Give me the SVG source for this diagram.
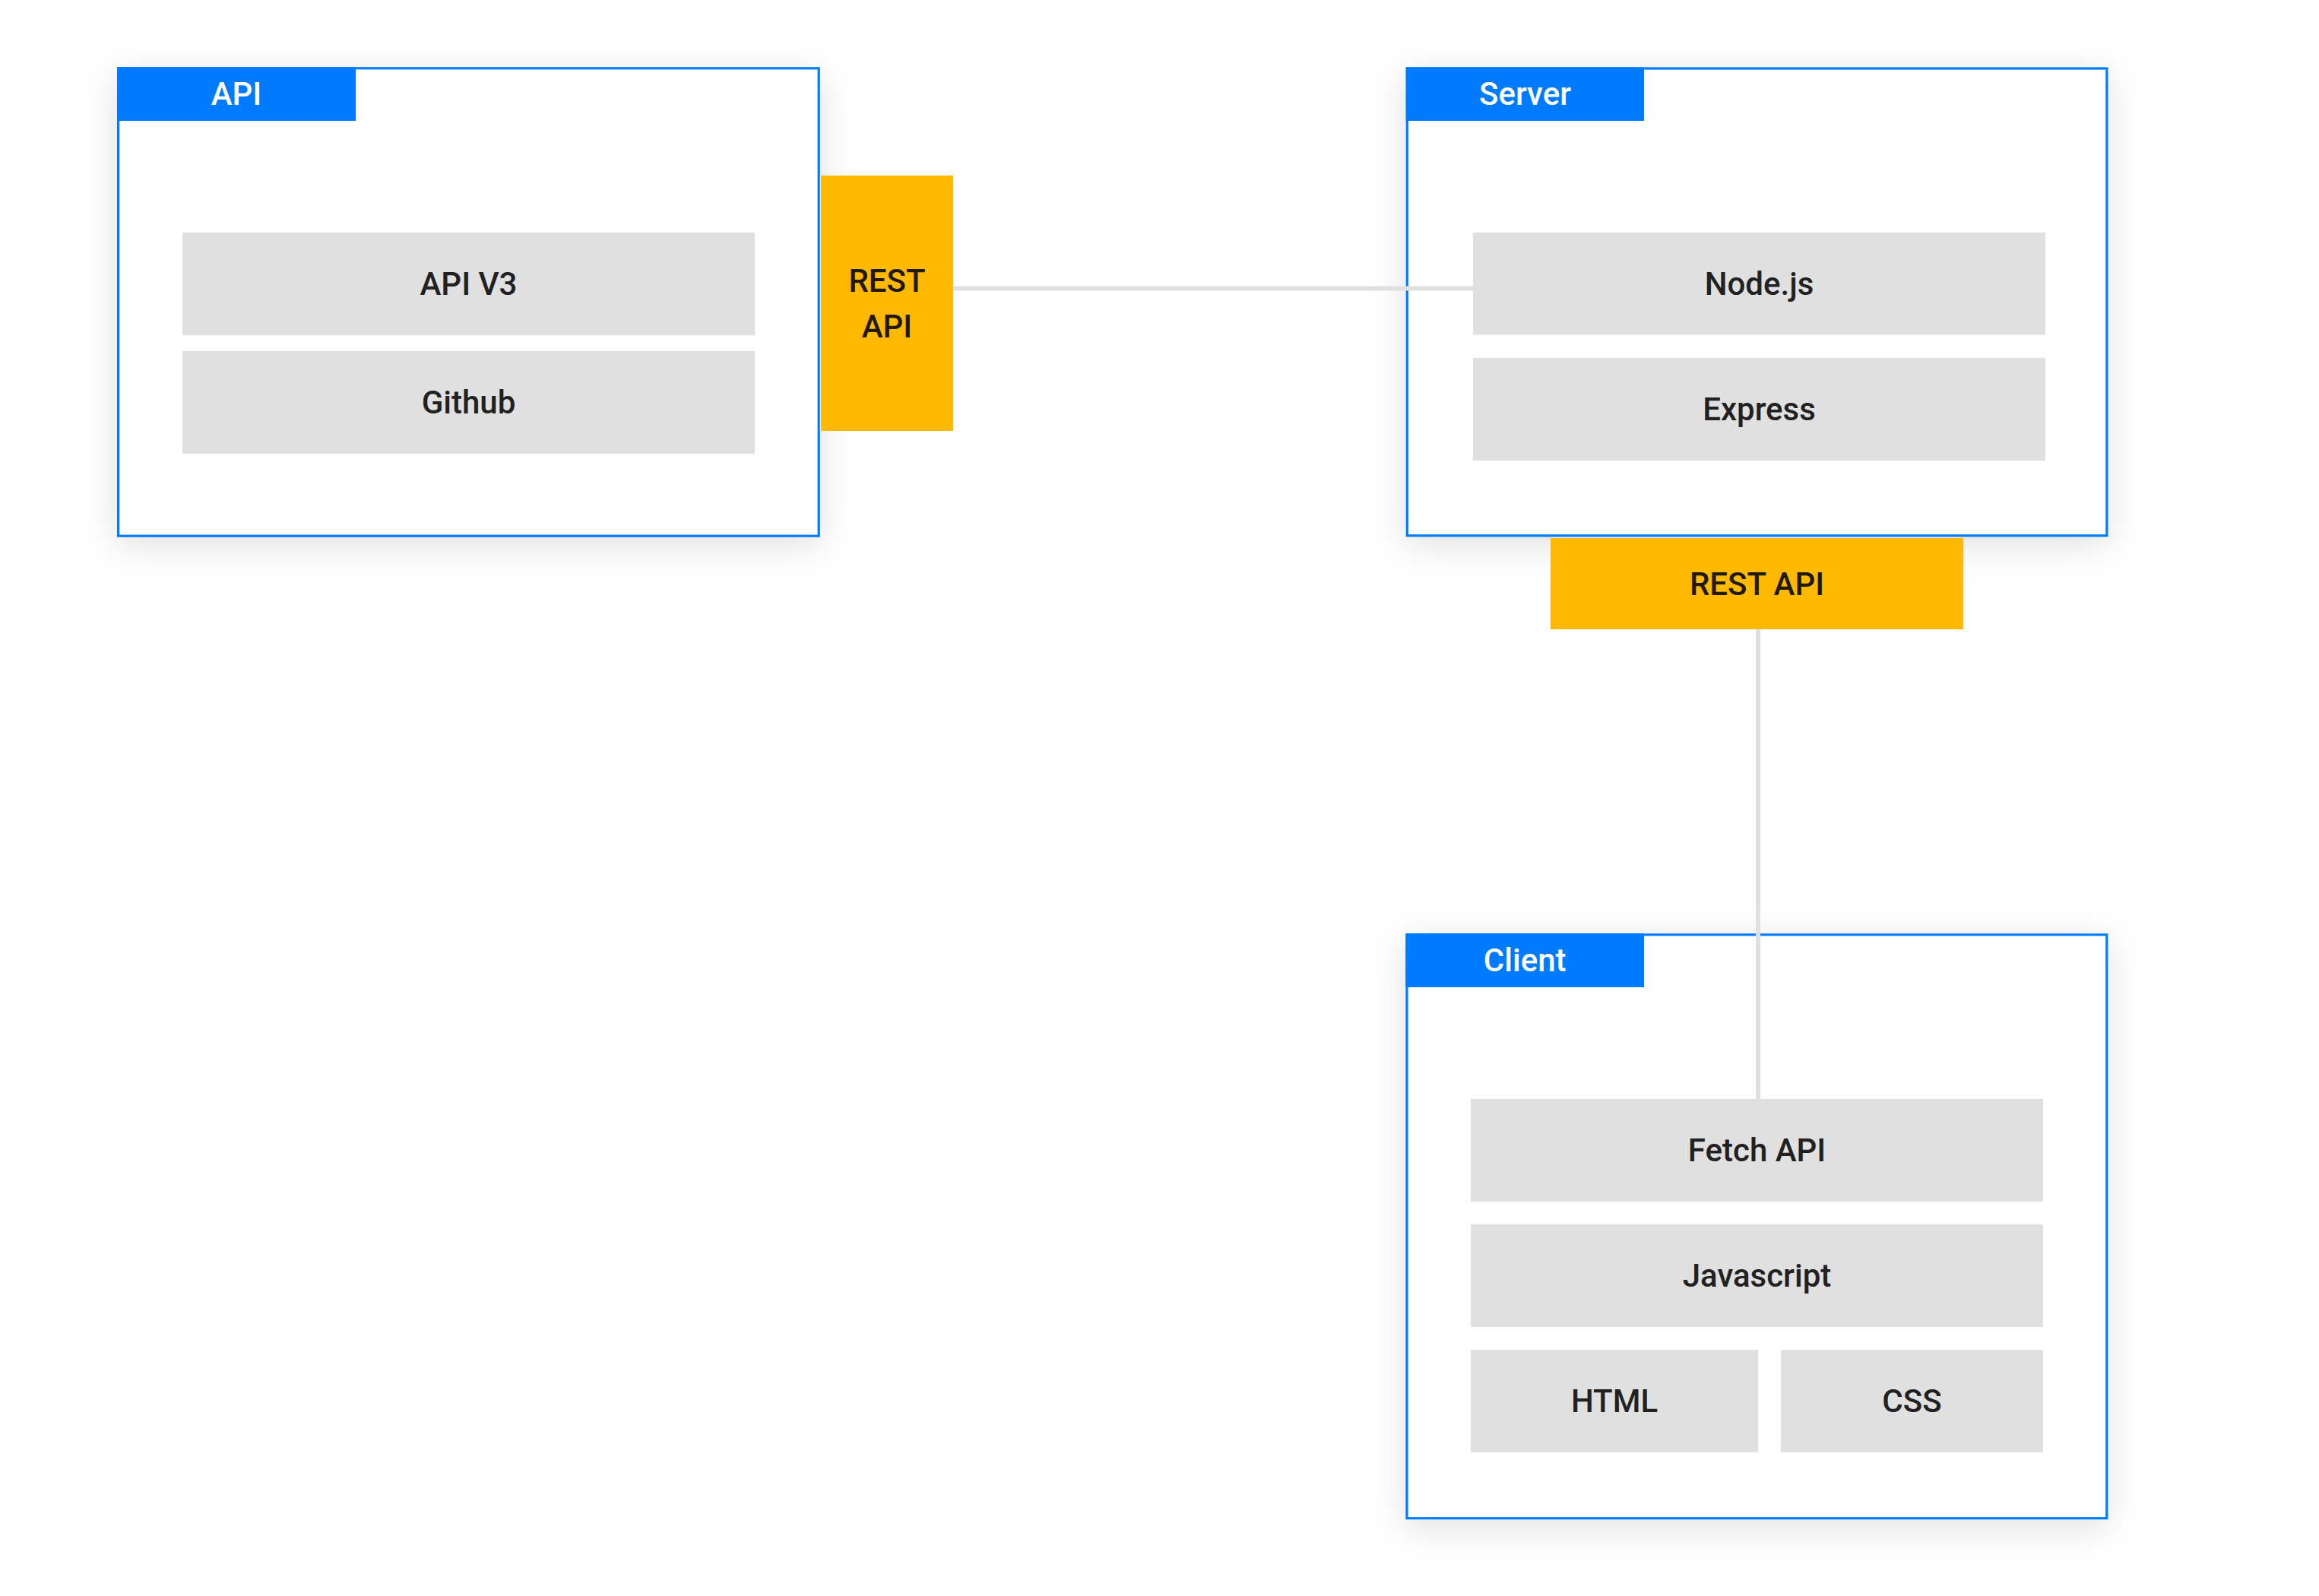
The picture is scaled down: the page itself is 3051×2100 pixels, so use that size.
<svg xmlns="http://www.w3.org/2000/svg" width="3051" height="2100" viewBox="0 0 3051 2100">
  <defs>
    <filter id="shadow" x="-15%" y="-15%" width="130%" height="135%">
      <feDropShadow dx="0" dy="10" stdDeviation="24" flood-color="#000000" flood-opacity="0.12"/>
    </filter>
    <style>
      .frame { fill: #ffffff; stroke: #007bff; stroke-width: 3.2; filter: url(#shadow); }
      .tab { fill: #007bff; }
      .tabtext { fill: #ffffff; font-family: Roboto, "Liberation Sans", sans-serif; font-size: 42px; font-weight: 500; text-anchor: middle; }
      .item { fill: #e0e0e0; }
      .itemtext { fill: #212121; font-family: Roboto, "Liberation Sans", sans-serif; font-size: 42px; font-weight: 500; text-anchor: middle; }
      .iface { fill: #ffb900; }
      .ifacetext { fill: #221a00; font-family: Roboto, "Liberation Sans", sans-serif; font-size: 42px; font-weight: 500; text-anchor: middle; }
      .conn { stroke: #e0e0e0; stroke-width: 6; fill: none; }
    </style>
  </defs>
  <rect x="0" y="0" width="3051" height="2100" fill="#ffffff"/>

  <g id="api-container">
    <rect class="frame" x="155.6" y="89.8" width="921.6" height="615.4"/>
    <rect class="tab" x="154" y="88.2" width="314" height="70.8"/>
    <text class="tabtext" x="311" y="138">API</text>
  </g>
  <g id="server-container">
    <rect class="frame" x="1851.3" y="90" width="920.6" height="614.8"/>
    <rect class="tab" x="1849.7" y="88.4" width="313.3" height="70.6"/>
    <text class="tabtext" x="2006.5" y="138">Server</text>
  </g>
  <g id="client-container">
    <rect class="frame" x="1851" y="1229.9" width="920.8" height="767.8"/>
    <rect class="tab" x="1849.4" y="1228.3" width="313.6" height="70.7"/>
    <text class="tabtext" x="2006.2" y="1278">Client</text>
  </g>

  <g id="connectors">
    <line class="conn" x1="1254" y1="379.5" x2="1938" y2="379.5"/>
    <line class="conn" x1="2313" y1="828" x2="2313" y2="1446"/>
  </g>

  <g id="rest-api-left">
    <rect class="iface" x="1080" y="231" width="174" height="336"/>
    <text class="ifacetext" x="1167" y="384">REST</text>
    <text class="ifacetext" x="1167" y="444">API</text>
  </g>
  <g id="rest-api-bottom">
    <rect class="iface" x="2040" y="708" width="543" height="120"/>
    <text class="ifacetext" x="2311.5" y="783">REST API</text>
  </g>

  <g id="api-v3">
    <rect class="item" x="240" y="306" width="753" height="135"/>
    <text class="itemtext" x="616.5" y="388">API V3</text>
  </g>
  <g id="github">
    <rect class="item" x="240" y="462" width="753" height="135"/>
    <text class="itemtext" x="616.5" y="544">Github</text>
  </g>

  <g id="nodejs">
    <rect class="item" x="1938" y="306" width="753" height="134.5"/>
    <text class="itemtext" x="2314.5" y="387.5">Node.js</text>
  </g>
  <g id="express">
    <rect class="item" x="1938" y="471" width="753" height="135"/>
    <text class="itemtext" x="2314.5" y="552.5">Express</text>
  </g>

  <g id="fetch-api">
    <rect class="item" x="1935" y="1446" width="753" height="135"/>
    <text class="itemtext" x="2311.5" y="1528">Fetch API</text>
  </g>
  <g id="javascript">
    <rect class="item" x="1935" y="1611" width="753" height="135"/>
    <text class="itemtext" x="2311.5" y="1693">Javascript</text>
  </g>
  <g id="html">
    <rect class="item" x="1935" y="1776" width="378" height="135"/>
    <text class="itemtext" x="2124" y="1858">HTML</text>
  </g>
  <g id="css">
    <rect class="item" x="2343" y="1776" width="345" height="135"/>
    <text class="itemtext" x="2515.5" y="1858">CSS</text>
  </g>
</svg>
